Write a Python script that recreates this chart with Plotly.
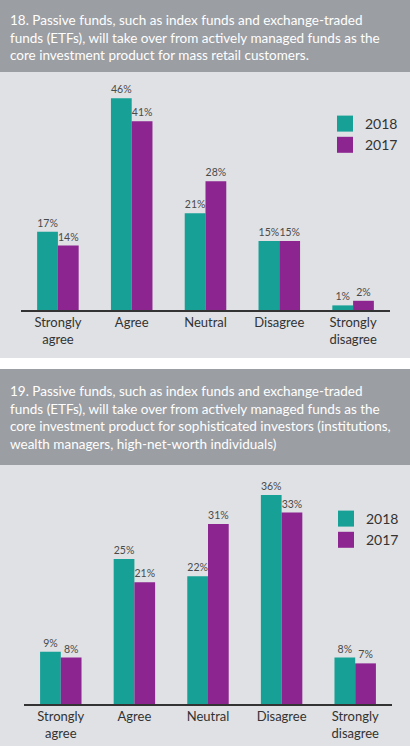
import plotly.graph_objects as go

categories = ["Strongly<br>agree", "Agree", "Neutral", "Disagree", "Strongly<br>disagree"]
q18_2018 = [17, 46, 21, 15, 1]
q18_2017 = [14, 41, 28, 15, 2]
q19_2018 = [9, 25, 22, 36, 8]
q19_2017 = [8, 21, 31, 33, 7]
years = ["2018", "2017"]

title18 = ["18. Passive funds, such as index funds and exchange-traded",
           "funds (ETFs), will take over from actively managed funds as the",
           "core investment product for mass retail customers."]
title19 = ["19. Passive funds, such as index funds and exchange-traded",
           "funds (ETFs), will take over from actively managed funds as the",
           "core investment product for sophisticated investors (institutions,",
           "wealth managers, high-net-worth individuals)"]

TEAL = "#17a096"
PURPLE = "#8d2591"
HEADER = "#9b9ea3"
PANEL = "#dfe1e4"
FONT = "Lato"
W, H = 410, 746

def px_x(p):
    return p / W

def px_y(p):
    return (H - p) / H

fig = go.Figure()

for (vals, color, name) in [(q18_2018, TEAL, years[0]), (q18_2017, PURPLE, years[1])]:
    fig.add_trace(go.Bar(x=categories, y=vals, marker=dict(color=color, line=dict(width=0)),
                         text=[f"{v}%" for v in vals], textposition="outside",
                         textfont=dict(size=10.5, color="#4a4a4a", family=FONT),
                         cliponaxis=False, showlegend=False, xaxis="x", yaxis="y", name=name))
for (vals, color, name) in [(q19_2018, TEAL, years[0]), (q19_2017, PURPLE, years[1])]:
    fig.add_trace(go.Bar(x=categories, y=vals, marker=dict(color=color, line=dict(width=0)),
                         text=[f"{v}%" for v in vals], textposition="outside",
                         textfont=dict(size=10.5, color="#4a4a4a", family=FONT),
                         cliponaxis=False, showlegend=False, xaxis="x2", yaxis="y2", name=name))

# legend proxies
for color, name in [(TEAL, years[0]), (PURPLE, years[1])]:
    fig.add_trace(go.Scatter(x=[None], y=[None], mode="markers", name=name,
                             marker=dict(symbol="square", size=16, color=color),
                             xaxis="x", yaxis="y", legend="legend"))
for color, name in [(TEAL, years[0]), (PURPLE, years[1])]:
    fig.add_trace(go.Scatter(x=[None], y=[None], mode="markers", name=name,
                             marker=dict(symbol="square", size=16, color=color),
                             xaxis="x2", yaxis="y2", legend="legend2"))

shapes = [
    dict(type="rect", xref="paper", yref="paper", x0=0, x1=1, y0=px_y(72), y1=1,
         fillcolor=HEADER, line=dict(width=0), layer="below"),
    dict(type="rect", xref="paper", yref="paper", x0=0, x1=1, y0=px_y(358), y1=px_y(72),
         fillcolor=PANEL, line=dict(width=0), layer="below"),
    dict(type="rect", xref="paper", yref="paper", x0=0, x1=1, y0=px_y(465), y1=px_y(369),
         fillcolor=HEADER, line=dict(width=0), layer="below"),
    dict(type="rect", xref="paper", yref="paper", x0=0, x1=1, y0=0, y1=px_y(465),
         fillcolor=PANEL, line=dict(width=0), layer="below"),
]

annotations = [
    dict(text="<br>".join(title18), xref="paper", yref="paper", x=px_x(8), y=px_y(10),
         xanchor="left", yanchor="top", align="left", showarrow=False,
         font=dict(size=13.5, color="white", family=FONT)),
    dict(text="<br>".join(title19), xref="paper", yref="paper", x=px_x(8), y=px_y(381),
         xanchor="left", yanchor="top", align="left", showarrow=False,
         font=dict(size=13.5, color="white", family=FONT)),
]

axis_common = dict(showgrid=False, zeroline=False, ticks="", showline=True, linecolor="#333333",
                   linewidth=1.5, tickfont=dict(size=13, color="#333333", family=FONT), fixedrange=True)
yaxis_common = dict(showgrid=False, zeroline=False, showticklabels=False, showline=False, fixedrange=True)

fig.update_layout(
    width=W, height=H, margin=dict(l=0, r=0, t=0, b=0),
    paper_bgcolor="white", plot_bgcolor="rgba(0,0,0,0)",
    barmode="group", bargap=0.437, bargroupgap=0,
    font=dict(family=FONT, color="#333333"),
    xaxis=dict(domain=[px_x(21), px_x(390)], anchor="y", **axis_common),
    yaxis=dict(domain=[px_y(310), px_y(90)], range=[0, 47.8], anchor="x", **yaxis_common),
    xaxis2=dict(domain=[px_x(24), px_x(392)], anchor="y2", **axis_common),
    yaxis2=dict(domain=[px_y(704), px_y(480)], range=[0, 38.6], anchor="x2", **yaxis_common),
    legend=dict(x=px_x(325), y=px_y(108), xanchor="left", yanchor="top",
                bgcolor="rgba(0,0,0,0)", font=dict(size=14, color="#333333", family=FONT),
                itemsizing="trace", tracegroupgap=0),
    legend2=dict(x=px_x(326), y=px_y(503), xanchor="left", yanchor="top",
                 bgcolor="rgba(0,0,0,0)", font=dict(size=14, color="#333333", family=FONT),
                 itemsizing="trace", tracegroupgap=0),
    shapes=shapes, annotations=annotations,
)

fig.write_html("out.html")
